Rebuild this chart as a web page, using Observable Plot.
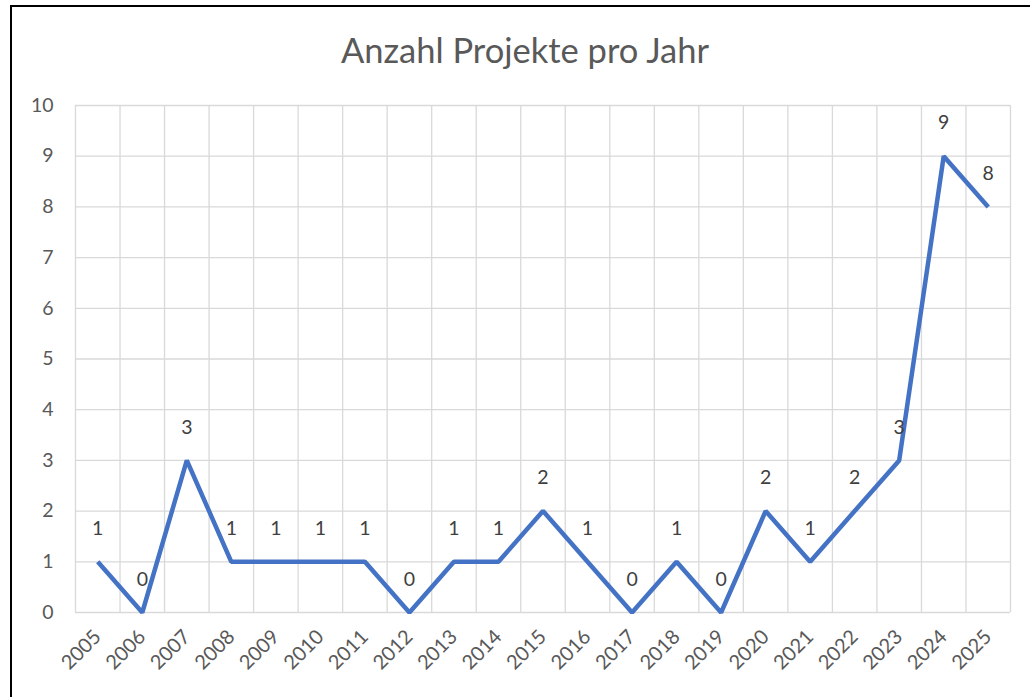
<!DOCTYPE html>
<html>
<head>
<meta charset="utf-8">
<script src="https://cdn.jsdelivr.net/npm/d3@7"></script>
<script src="https://cdn.jsdelivr.net/npm/@observablehq/plot@0.6"></script>
<style>
  html, body { margin: 0; padding: 0; background: #fff; }
  #wrap { position: relative; width: 1030px; height: 697px; overflow: hidden; }
  #frame { position: absolute; left: 10px; top: 5px; width: 1040px; height: 720px; border: 2px solid #000; box-sizing: border-box; pointer-events: none; }
  #chart { position: absolute; left: 0; top: 0; }
</style>
</head>
<body>
<div id="wrap"><div id="chart"></div><div id="frame"></div></div>
<script>
const title = "Anzahl Projekte pro Jahr";
const years = [2005, 2006, 2007, 2008, 2009, 2010, 2011, 2012, 2013, 2014, 2015, 2016, 2017, 2018, 2019, 2020, 2021, 2022, 2023, 2024, 2025];
const counts = [1, 0, 3, 1, 1, 1, 1, 0, 1, 1, 2, 1, 0, 1, 0, 2, 1, 2, 3, 9, 8];
const yTicks = [0, 1, 2, 3, 4, 5, 6, 7, 8, 9, 10];

const data = years.map((y, i) => ({year: y, count: counts[i]}));
const edges = years.map(y => y - 0.5).concat([years[years.length - 1] + 0.5]);

const font = "Lato, 'Open Sans', sans-serif";

const plot = Plot.plot({
  width: 1030,
  height: 697,
  marginLeft: 75,
  marginRight: 20,
  marginTop: 105,
  marginBottom: 85,
  style: {fontFamily: font, fontSize: "19.5px", color: "#595959", background: "transparent"},
  x: {domain: [edges[0], edges[edges.length - 1]], label: null},
  y: {domain: [0, 10], label: null},
  marks: [
    Plot.ruleY(yTicks, {stroke: "#d9d9d9", strokeWidth: 1.3}),
    Plot.ruleX(edges, {stroke: "#d9d9d9", strokeWidth: 1.3}),
    Plot.axisX({ticks: years, tickFormat: d => String(d), tickRotate: -45, tickSize: 0, tickPadding: 21, fontSize: 20, fill: "#595959", label: null}),
    Plot.axisY({ticks: yTicks, tickSize: 0, tickPadding: 22, fontSize: 19.5, fill: "#595959", label: null}),
    Plot.line(data, {x: "year", y: "count", stroke: "#4472C4", strokeWidth: 4.5, strokeLinejoin: "miter", strokeLinecap: "butt"}),
    Plot.text(data, {x: "year", y: "count", text: d => String(d.count), dy: -33, fill: "#404040", fontSize: 19.5}),
    Plot.text([title], {frameAnchor: "top", dx: -18, dy: -67, fontSize: 34.5, fill: "#595959", text: d => d})
  ]
});
document.getElementById("chart").appendChild(plot);
</script>
</body>
</html>
